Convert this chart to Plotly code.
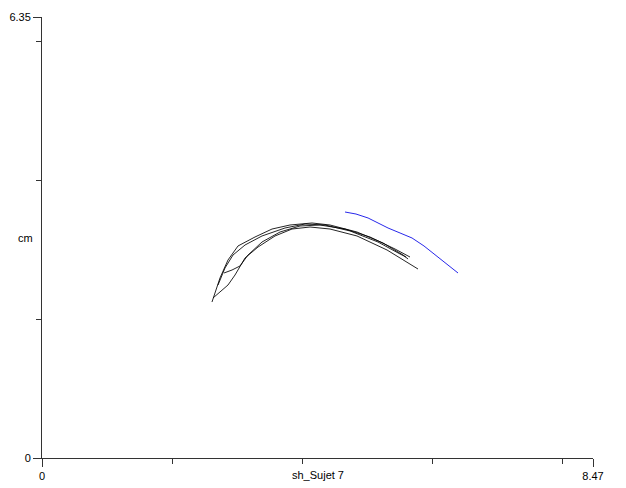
import plotly.graph_objects as go

# Black strokes (cm)
s1_x = [2.613, 2.675, 2.736, 2.859, 3.013, 3.274, 3.536, 3.812, 4.151, 4.427, 4.842, 5.242, 5.550, 5.627]
s1_y = [2.246, 2.419, 2.592, 2.851, 3.053, 3.182, 3.297, 3.355, 3.384, 3.355, 3.254, 3.096, 2.923, 2.865]

s2_x = [2.629, 2.736, 2.859, 2.967, 3.121, 3.321, 3.582, 3.843, 4.120, 4.427, 4.842, 5.304, 5.611, 5.780]
s2_y = [2.304, 2.390, 2.491, 2.635, 2.880, 3.038, 3.197, 3.297, 3.326, 3.297, 3.197, 2.995, 2.822, 2.721]

s3_x = [2.798, 2.921, 3.044, 3.167, 3.382, 3.659, 3.966, 4.274, 4.658, 5.042, 5.427, 5.657]
s3_y = [2.664, 2.707, 2.765, 2.923, 3.110, 3.254, 3.341, 3.355, 3.297, 3.182, 3.009, 2.894]

s4_x = [2.706, 2.813, 2.936, 3.121, 3.382, 3.736, 4.043, 4.351, 4.735, 5.165, 5.504, 5.596]
s4_y = [2.491, 2.736, 2.923, 3.067, 3.197, 3.312, 3.369, 3.355, 3.269, 3.110, 2.937, 2.894]

# Blue stroke
b_x = [4.658, 4.827, 5.012, 5.165, 5.319, 5.504, 5.688, 5.872, 6.041, 6.226, 6.395]
b_y = [3.542, 3.513, 3.456, 3.384, 3.312, 3.240, 3.168, 3.053, 2.923, 2.793, 2.664]

x_max = 8.47
y_max = 6.35
x_ticks = [0, 8.47]
x_tick_text = ["0", "8.47"]
y_ticks = [0, 6.35]
y_tick_text = ["0", "6.35"]

fig = go.Figure()
for xs, ys in [(s1_x, s1_y), (s2_x, s2_y), (s3_x, s3_y), (s4_x, s4_y)]:
    fig.add_trace(go.Scatter(x=xs, y=ys, mode="lines",
                             line=dict(color="rgba(0,0,0,0.85)", width=1),
                             showlegend=False, hoverinfo="skip"))
fig.add_trace(go.Scatter(x=b_x, y=b_y, mode="lines",
                         line=dict(color="rgb(40,40,235)", width=1),
                         showlegend=False, hoverinfo="skip"))

font = dict(family="Liberation Sans, Arial, sans-serif", size=11, color="black")

# page body has an 8px default margin, so the figure is sized/margined to compensate
fig.update_layout(
    width=618, height=480,
    margin=dict(l=34, r=33, t=9, b=30, autoexpand=False),
    paper_bgcolor="white", plot_bgcolor="white",
    font=font,
    xaxis=dict(range=[0, x_max], showgrid=False, zeroline=False, automargin=False,
               showline=True, linecolor="#333", linewidth=1,
               tickmode="array", tickvals=x_ticks, ticktext=x_tick_text,
               ticks="outside", ticklen=8, tickcolor="#333",
               minor=dict(tickmode="array", tickvals=[2, 4, 6, 8],
                          ticks="outside", ticklen=5, tickcolor="#333")),
    yaxis=dict(range=[0, y_max], showgrid=False, zeroline=False, automargin=False,
               showline=True, linecolor="#333", linewidth=1,
               tickmode="array", tickvals=y_ticks, ticktext=y_tick_text,
               ticks="outside", ticklen=8, tickcolor="#333",
               minor=dict(tickmode="array", tickvals=[2, 4, 6],
                          ticks="outside", ticklen=5, tickcolor="#333")),
    annotations=[
        dict(text="sh_Sujet 7", xref="x", yref="paper", x=x_max / 2, y=0,
             xanchor="center", yanchor="middle",
             yshift=-17, showarrow=False, font=font),
        dict(text="cm", xref="paper", yref="y", x=0, y=y_max * 0.5,
             xanchor="center", yanchor="middle", xshift=-17,
             showarrow=False, font=font),
    ],
)

fig.write_html("out.html")
